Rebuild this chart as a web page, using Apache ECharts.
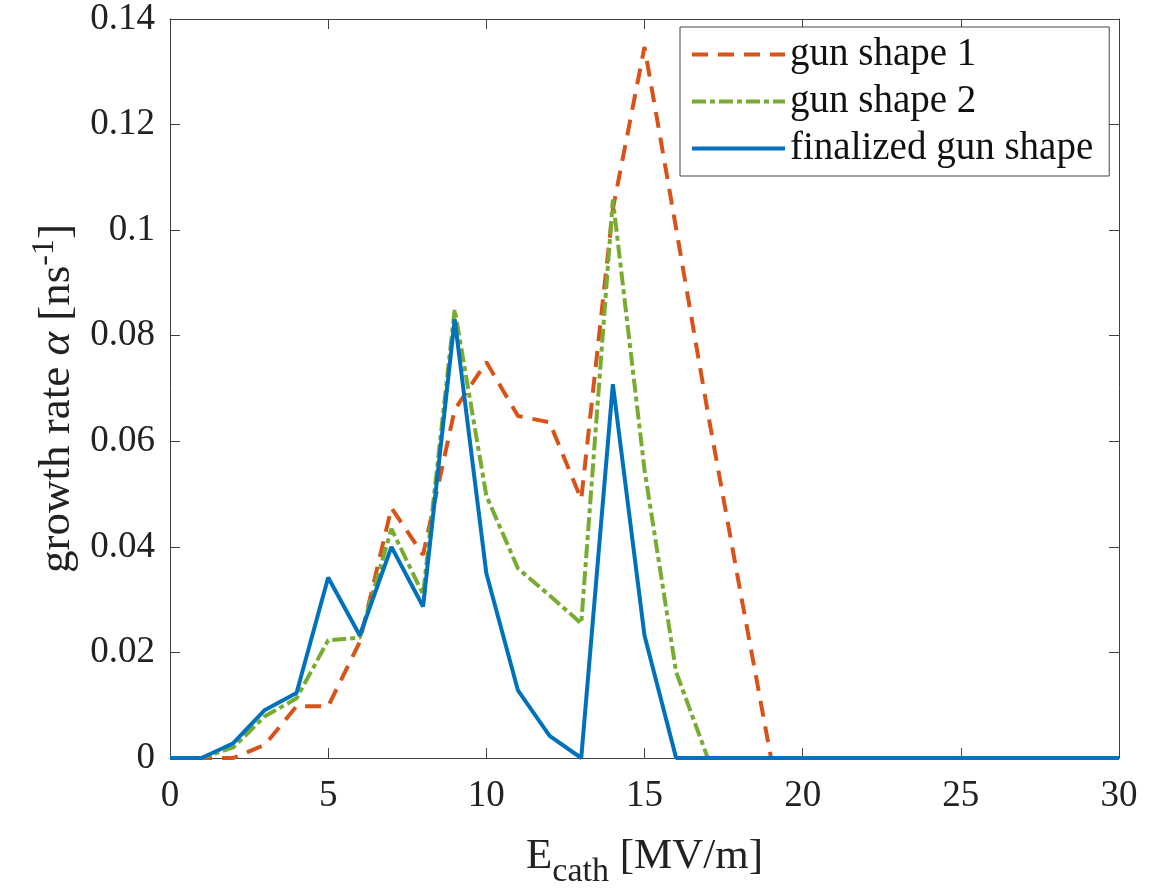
<!DOCTYPE html>
<html>
<head>
<meta charset="utf-8">
<script src="https://cdn.jsdelivr.net/npm/echarts@6/dist/echarts.min.js"></script>
<style>html,body{margin:0;padding:0;background:#fff;overflow:hidden;}#c{width:1153px;height:894px;}</style>
</head>
<body>
<div id="c"></div>
<script>
const xValues = [0,1,2,3,4,5,6,7,8,9,10,11,12,13,14,15,16,17,18,19,20,21,22,23,24,25,26,27,28,29,30];
const gunShape1 = [0,0,0,0.0025,0.0098,0.0098,0.022,0.0474,0.0385,0.066,0.075,0.0648,0.0636,0.049,0.104,0.1347,0.1003,0.0655,0.0325,0,0,0,0,0,0,0,0,0,0,0,0];
const gunShape2 = [0,0,0.002,0.0079,0.0113,0.0223,0.0228,0.0434,0.031,0.085,0.0497,0.0359,0.0308,0.0255,0.1058,0.0546,0.0163,0,0,0,0,0,0,0,0,0,0,0,0,0,0];
const finalized = [0,0,0.0028,0.0091,0.0123,0.0342,0.0232,0.040,0.0287,0.0831,0.035,0.0128,0.0042,0,0.0708,0.0232,0,0,0,0,0,0,0,0,0,0,0,0,0,0,0];
const seriesNames = ['gun shape 1','gun shape 2','finalized gun shape'];

const pairs = ys => xValues.map((x,i)=>[x, ys[i]]);
const FONT = '"Liberation Serif","Times New Roman",serif';
const axisCol = '#404040';

const chart = echarts.init(document.getElementById('c'), null, {renderer:'canvas'});
const commonX = {type:'value', min:0, max:30, interval:5,
  axisLine:{show:true, onZero:false, lineStyle:{color:axisCol, width:1}},
  axisTick:{show:true, inside:true, length:10, lineStyle:{color:axisCol, width:1}},
  splitLine:{show:false}};
const commonY = {type:'value', min:0, max:0.14, interval:0.02,
  axisLine:{show:true, onZero:false, lineStyle:{color:axisCol, width:1}},
  axisTick:{show:true, inside:true, length:10, lineStyle:{color:axisCol, width:1}},
  splitLine:{show:false}};

const lineStyles = [
  {color:'#D95319', width:4, type:[16,10]},
  {color:'#77AC30', width:4, type:[14,4,5,4]},
  {color:'#0072BD', width:4, type:'solid'}
];

chart.setOption({
  animation:false,
  backgroundColor:'#fff',
  grid:{left:170, right:34, top:19, bottom:134, containLabel:false},
  legend:{
    orient:'vertical', left:680, top:27,
    padding:[4,16,4,10], itemGap:0, itemWidth:93, itemHeight:20,
    backgroundColor:'#fff', borderColor:'#444', borderWidth:1,
    textStyle:{fontFamily:FONT, fontSize:39, color:'#111', lineHeight:47},
    data:seriesNames.map((n,i)=>({name:n, itemStyle:{opacity:0}, lineStyle:lineStyles[i]}))
  },
  xAxis:[
    Object.assign({}, commonX, {position:'bottom',
      axisLabel:{show:true, margin:20, fontFamily:FONT, fontSize:37, color:'#222'},
      name:'{a|E}{b|cath}{a| [MV/m]}', nameLocation:'middle', nameGap:67,
      nameTextStyle:{fontFamily:FONT, color:'#222',
        rich:{a:{fontFamily:FONT, fontSize:43, color:'#222'},
              b:{fontFamily:FONT, fontSize:34, color:'#222', padding:[30,0,0,0]}}}
    }),
    Object.assign({}, commonX, {position:'top', axisLabel:{show:false}})
  ],
  yAxis:[
    Object.assign({}, commonY, {position:'left',
      axisLabel:{show:true, margin:15, fontFamily:FONT, fontSize:37, color:'#222',
        formatter: v => v===0 ? '0' : String(+v.toFixed(2))},
      name:'{a|growth rate }{i|α}{a| [ns}{s|-1}{a|]}', nameLocation:'middle', nameGap:82,
      nameTextStyle:{fontFamily:FONT, color:'#222', padding:[0,20,0,0],
        rich:{a:{fontFamily:FONT, fontSize:45, color:'#222'},
              i:{fontFamily:FONT, fontSize:45, fontStyle:'italic', color:'#222'},
              s:{fontFamily:FONT, fontSize:32, color:'#222', padding:[0,0,24,0]}}}
    }),
    Object.assign({}, commonY, {position:'right', axisLabel:{show:false}})
  ],
  series:seriesNames.map((n,i)=>({
    name:n, type:'line', data:pairs([gunShape1,gunShape2,finalized][i]), symbol:'none', clip:false,
    lineStyle:lineStyles[i], itemStyle:{color:lineStyles[i].color}
  }))
});
</script>
</body>
</html>
